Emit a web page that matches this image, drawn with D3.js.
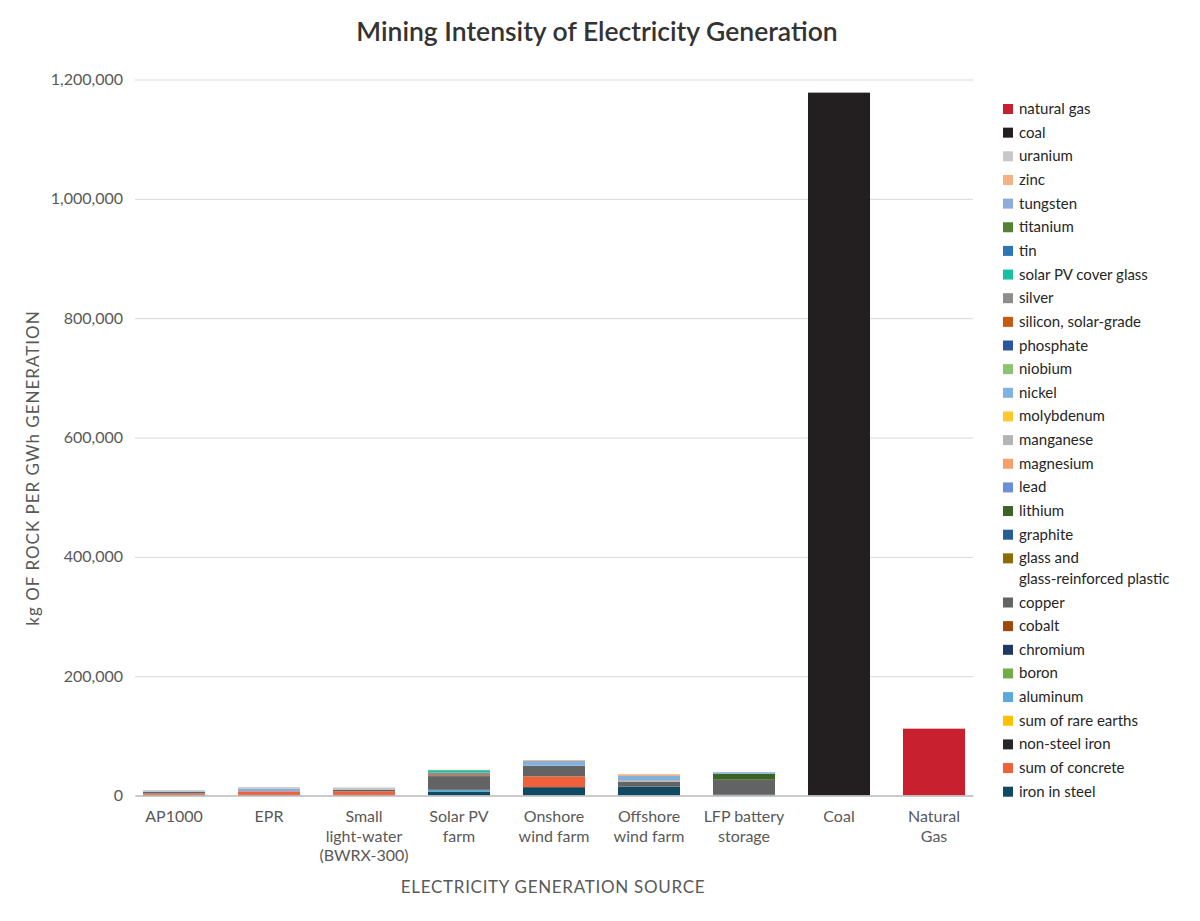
<!DOCTYPE html>
<html>
<head>
<meta charset="utf-8">
<script src="https://cdn.jsdelivr.net/npm/d3@7"></script>
<style>
  html, body { margin: 0; padding: 0; background: #fff; }
  svg { display: block; font-family: Lato, "Noto Sans", sans-serif; }
</style>
</head>
<body>
<svg id="chart" width="1200" height="921"></svg>
<script>
// ---------- DATA ----------
const categories = ["AP1000", "EPR", "Small\nlight-water\n(BWRX-300)", "Solar PV\nfarm",
  "Onshore\nwind farm", "Offshore\nwind farm", "LFP battery\nstorage", "Coal", "Natural\nGas"];

const yTicks = [0, 200000, 400000, 600000, 800000, 1000000, 1200000];

// materials in stacking order (bottom -> top); legend shows them reversed
const materials = ["iron in steel", "sum of concrete", "non-steel iron", "sum of rare earths",
  "aluminum", "boron", "chromium", "cobalt", "copper",
  "glass and\nglass-reinforced plastic", "graphite", "lithium", "lead", "magnesium",
  "manganese", "molybdenum", "nickel", "niobium", "phosphate", "silicon, solar-grade",
  "silver", "solar PV cover glass", "tin", "titanium", "tungsten", "zinc", "uranium",
  "coal", "natural gas"];

const materialColors = ["#0f4a62", "#f0603a", "#262626", "#ffc000",
  "#5aabdb", "#70ad47", "#1f3864", "#9e480e", "#636363",
  "#8c6d00", "#255e91", "#3b6324", "#6a8fd6", "#f4a06a",
  "#b4b4b4", "#ffc92e", "#7fb2e0", "#8dc26f", "#2f55a0", "#c55a11",
  "#8d8d8d", "#17bfa5", "#2e75b6", "#548235", "#8faadc", "#f4b183", "#c8c8c8",
  "#231f20", "#c8202f"];

// kg of rock per GWh, one value per category (order of `categories`)
const ironInSteel     = [1200, 1000, 1000, 6700, 14000, 15000, 1500, 0, 0];
const sumOfConcrete   = [2300, 6000, 6000, 0, 18000, 0, 0, 0, 0];
const nonSteelIron    = [0, 0, 0, 0, 0, 0, 0, 0, 0];
const sumOfRareEarths = [0, 0, 0, 0, 0, 0, 0, 0, 0];
const aluminum        = [0, 0, 0, 2800, 0, 0, 0, 0, 0];
const boron           = [0, 0, 0, 0, 0, 0, 0, 0, 0];
const chromium        = [0, 0, 0, 0, 0, 0, 0, 0, 0];
const cobalt          = [0, 0, 0, 0, 0, 0, 0, 0, 0];
const copper          = [2500, 0, 3000, 23000, 18000, 8000, 25000, 0, 0];
const glassGRP        = [0, 0, 0, 0, 0, 0, 0, 0, 0];
const graphite        = [0, 0, 0, 0, 0, 0, 0, 0, 0];
const lithium         = [0, 0, 0, 0, 0, 0, 10000, 0, 0];
const lead            = [0, 0, 0, 0, 0, 0, 0, 0, 0];
const magnesium       = [0, 0, 0, 0, 0, 0, 0, 0, 0];
const manganese       = [0, 0, 0, 0, 0, 3000, 0, 0, 0];
const molybdenum      = [0, 0, 0, 0, 0, 0, 0, 0, 0];
const nickel          = [1000, 4000, 0, 0, 8000, 6700, 2500, 0, 0];
const niobium         = [0, 0, 0, 0, 0, 0, 0, 0, 0];
const phosphate       = [0, 0, 0, 0, 0, 0, 0, 0, 0];
const siliconSolar    = [0, 0, 0, 1500, 0, 0, 0, 0, 0];
const silver          = [0, 0, 0, 4500, 0, 0, 0, 0, 0];
const solarCoverGlass = [0, 0, 0, 3900, 0, 0, 0, 0, 0];
const tin             = [0, 0, 0, 0, 0, 0, 0, 0, 0];
const titanium        = [0, 0, 0, 0, 0, 0, 0, 0, 0];
const tungsten        = [0, 0, 0, 0, 0, 0, 0, 0, 0];
const zinc            = [0, 0, 0, 800, 1500, 3000, 0, 0, 0];
const uranium         = [2000, 3000, 3500, 0, 0, 0, 0, 0, 0];
const coal            = [0, 0, 0, 0, 0, 0, 0, 1178000, 0];
const naturalGas      = [0, 0, 0, 0, 0, 0, 0, 0, 112000];

const seriesValues = [ironInSteel, sumOfConcrete, nonSteelIron, sumOfRareEarths, aluminum, boron,
  chromium, cobalt, copper, glassGRP, graphite, lithium, lead, magnesium, manganese, molybdenum,
  nickel, niobium, phosphate, siliconSolar, silver, solarCoverGlass, tin, titanium, tungsten,
  zinc, uranium, coal, naturalGas];

// ---------- CHART ----------
const svg = d3.select("#chart");
const plot = { left: 135, right: 973, top: 79.5, bottom: 795.5 };

const rows = categories.map((c, i) => {
  const r = { cat: c };
  materials.forEach((m, j) => { r[m] = seriesValues[j][i]; });
  return r;
});
const stack = d3.stack().keys(materials)(rows);

const x = d3.scaleBand().domain(categories).range([plot.left, plot.right])
  .paddingInner(0.347).paddingOuter(0.084);
const y = d3.scaleLinear().domain([0, 1200000]).range([plot.bottom, plot.top]);
const color = d3.scaleOrdinal().domain(materials).range(materialColors);

// title
svg.append("text").attr("x", 597).attr("y", 41).attr("text-anchor", "middle")
  .attr("font-size", 26.5).attr("font-weight", 600).attr("fill", "#333")
  .text("Mining Intensity of Electricity Generation");

// grid + y axis
const yAxis = d3.axisLeft(y).tickValues(yTicks)
  .tickSize(-(plot.right - plot.left)).tickPadding(12)
  .tickFormat(d3.format(","));
const gy = svg.append("g").attr("transform", `translate(${plot.left},0)`).call(yAxis);
gy.select(".domain").remove();
gy.selectAll(".tick line").attr("stroke", "#d9d9d9").attr("stroke-width", 1);
gy.selectAll(".tick text").attr("fill", "#595959").attr("font-size", 16)
  .attr("font-family", "Lato, 'Noto Sans', sans-serif");

// bars
svg.append("g").selectAll("g").data(stack).join("g")
  .attr("fill", d => color(d.key))
  .selectAll("rect").data(d => d).join("rect")
  .attr("x", d => x(d.data.cat))
  .attr("width", x.bandwidth())
  .attr("y", d => y(d[1]))
  .attr("height", d => Math.max(0, y(d[0]) - y(d[1])));

// x axis
const xAxis = d3.axisBottom(x).tickSize(0).tickPadding(0);
const gx = svg.append("g").attr("transform", `translate(0,${plot.bottom})`).call(xAxis);
gx.select(".domain").attr("stroke", "#bfbfbf").attr("stroke-width", 1.5);
gx.selectAll(".tick text").each(function(d) {
  const t = d3.select(this).text(null)
    .attr("fill", "#595959").attr("font-size", 16)
    .attr("font-family", "Lato, 'Noto Sans', sans-serif")
    .attr("y", null).attr("dy", null);
  d.split("\n").forEach((line, i) => {
    t.append("tspan").attr("x", 0).attr("y", 26.5 + i * 19.7).text(line);
  });
});

// axis titles
svg.append("text").attr("x", 553).attr("y", 893).attr("text-anchor", "middle")
  .attr("font-size", 17).attr("letter-spacing", 0.7).attr("fill", "#595959")
  .text("ELECTRICITY GENERATION SOURCE");
svg.append("text").attr("transform", "translate(39,468) rotate(-90)").attr("text-anchor", "middle")
  .attr("font-size", 17).attr("letter-spacing", 1).attr("fill", "#595959")
  .text("kg OF ROCK PER GWh GENERATION");

// legend (reverse of stacking order)
const legendItems = materials.slice().reverse();
const lg = svg.append("g");
let ly = 109;
legendItems.forEach(m => {
  const lines = m.split("\n");
  const g = lg.append("g").attr("transform", `translate(1003,${ly})`);
  g.append("rect").attr("x", 0).attr("y", -5).attr("width", 10).attr("height", 10)
    .attr("fill", color(m));
  const t = g.append("text").attr("x", 16).attr("y", 5)
    .attr("font-size", 15).attr("fill", "#262626");
  lines.forEach((line, i) => {
    t.append("tspan").attr("x", 16).attr("y", 5 + i * 21).text(line);
  });
  ly += 23.65 + (lines.length - 1) * 20.5;
});
</script>
</body>
</html>
